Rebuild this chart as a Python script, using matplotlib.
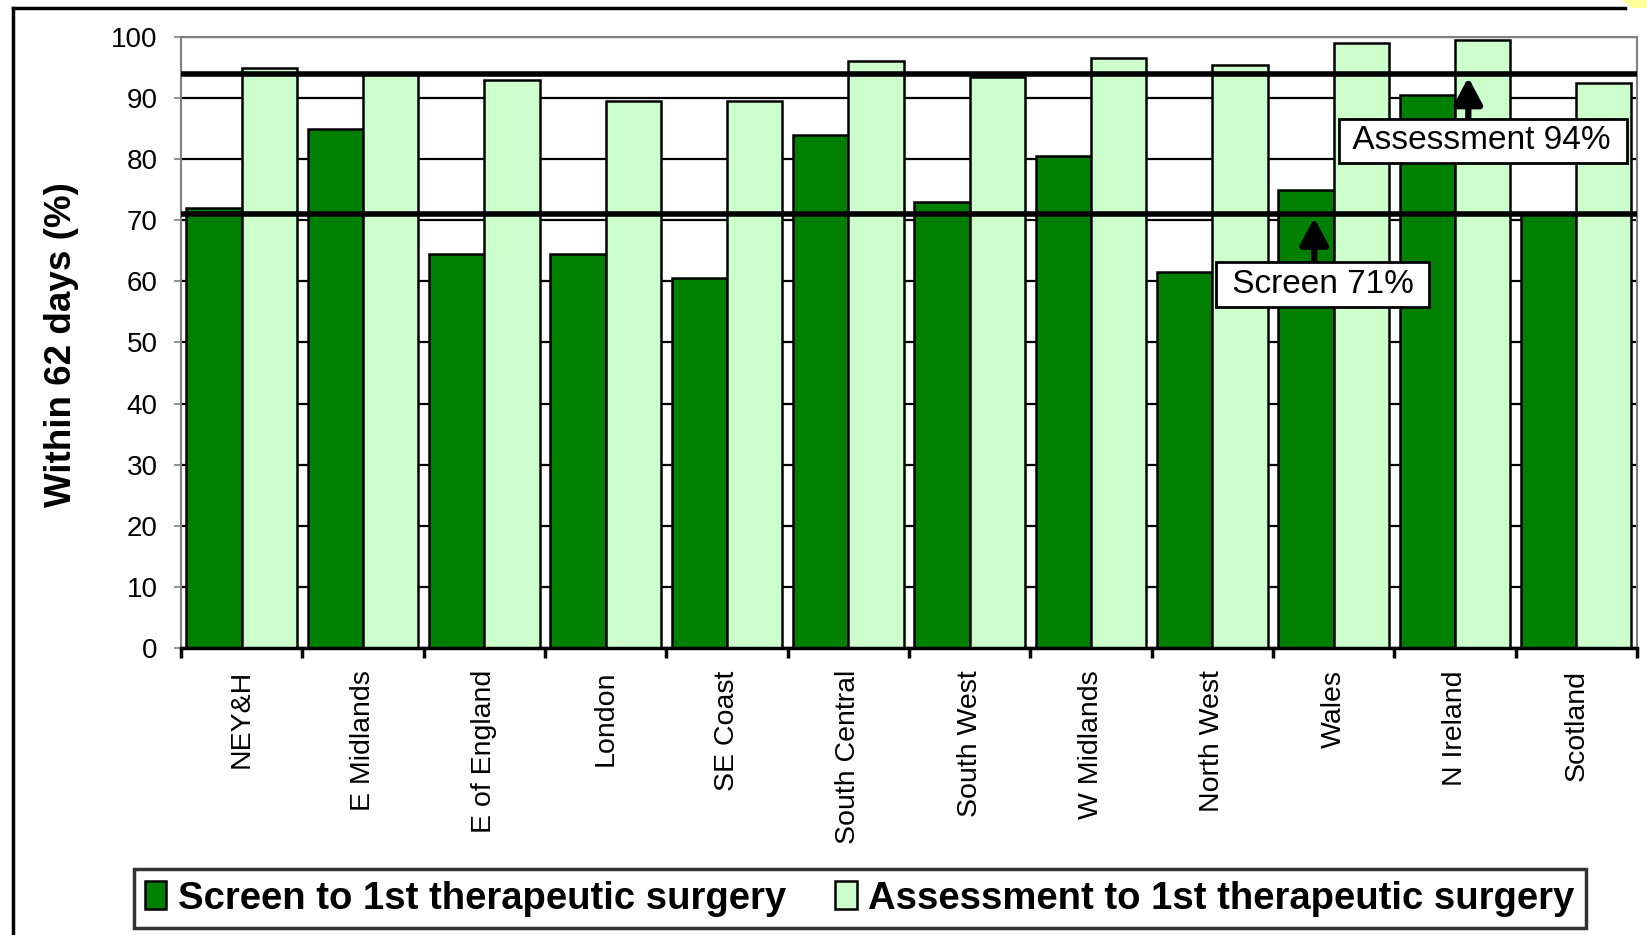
import matplotlib
matplotlib.use("Agg")
import matplotlib.pyplot as plt
import numpy as np
from matplotlib.lines import Line2D
from matplotlib.patches import Polygon

plt.rcParams['font.family'] = ['Liberation Sans', 'DejaVu Sans']

regions = ["NEY&H", "E Midlands", "E of England", "London", "SE Coast",
           "South Central", "South West", "W Midlands", "North West",
           "Wales", "N Ireland", "Scotland"]
screen = [72, 85, 64.5, 64.5, 60.5, 84, 73, 80.5, 61.5, 75, 90.5, 71]
assessment = [95, 94, 93, 89.5, 89.5, 96, 93.5, 96.5, 95.5, 99, 99.5, 92.5]
screen_target = 71
assessment_target = 94

dark = '#008000'
light = '#CCFFCC'

fig = plt.figure(figsize=(16.47, 9.35), dpi=100)
ax = fig.add_axes([0.1099, 0.3070, 0.8840, 0.6534])

x = np.arange(len(regions))
w = 0.455
ax.bar(x - w / 2, screen, w, color=dark, edgecolor='black', linewidth=1.8,
       label='Screen to 1st therapeutic surgery', zorder=2)
ax.bar(x + w / 2, assessment, w, color=light, edgecolor='black', linewidth=1.8,
       label='Assessment to 1st therapeutic surgery', zorder=2)

ax.axhline(assessment_target, color='black', lw=4, zorder=4, solid_capstyle='round')
ax.axhline(screen_target, color='black', lw=4, zorder=4, solid_capstyle='round')

ax.set_xlim(-0.5, len(regions) - 0.5)
ax.set_ylim(0, 100)
ax.set_yticks(range(0, 101, 10))
ax.yaxis.grid(True, color='black', lw=1.6)
ax.set_axisbelow(True)

# category labels at centres, tick marks at boundaries
ax.set_xticks(x)
ax.set_xticklabels(regions, rotation=90, ha='center', va='top')
ax.set_xticks(np.arange(-0.5, len(regions)), minor=True)
ax.tick_params(axis='x', which='major', length=0, pad=16, labelsize=20.5)
ax.tick_params(axis='x', which='minor', length=7, width=2.5, color='black', direction='out')
ax.tick_params(axis='y', length=5, width=1.2, color='#808080', pad=12, labelsize=20)

for s in ['left', 'top', 'right']:
    ax.spines[s].set_color('#808080')
    ax.spines[s].set_linewidth(1.5)
ax.spines['bottom'].set_color('black')
ax.spines['bottom'].set_linewidth(2.5)

ax.set_ylabel('Within 62 days (%)', fontsize=26.5, fontweight='bold')
ax.yaxis.set_label_coords(-0.07, 0.496)

# target callouts
box = dict(boxstyle='square,pad=0.2', facecolor='white', edgecolor='black', lw=2)
arrow = dict(arrowstyle='-|>,head_width=0.85,head_length=1.6',
             color='black', lw=4.5, shrinkA=0, shrinkB=0, mutation_scale=10)
ax.annotate('', xy=(10.11, assessment_target - 0.6), xytext=(10.11, 86.6),
            arrowprops=arrow, zorder=6)
ax.annotate('', xy=(8.84, screen_target - 0.6), xytext=(8.84, 63),
            arrowprops=arrow, zorder=6)
ax.text(10.23, 83, ' Assessment 94% ', fontsize=24, ha='center', va='center',
        bbox=box, zorder=7)
ax.text(8.91, 59.5, ' Screen 71% ', fontsize=24, ha='center', va='center',
        bbox=box, zorder=7)

leg = fig.legend(loc='center', bbox_to_anchor=(0.522, 0.039), ncol=2,
                 prop={'weight': 'bold', 'size': 27.5}, frameon=True, fancybox=False,
                 handlelength=0.55, handleheight=0.75, handletextpad=0.3,
                 columnspacing=1.3, borderpad=0.3)
leg.get_frame().set_edgecolor('black')
leg.get_frame().set_linewidth(2.5)

# outer chart frame
fig.add_artist(Line2D([13 / 1647, 13 / 1647], [0, 1 - 8 / 935], transform=fig.transFigure,
                      color='black', lw=2.5))
fig.add_artist(Line2D([13 / 1647, 1625 / 1647], [1 - 8 / 935, 1 - 8 / 935],
                      transform=fig.transFigure, color='black', lw=2.5))
fig.add_artist(Polygon([[1622 / 1647, 1], [1647 / 1647, 1], [1647 / 1647, 1 - 8 / 935],
                        [1632 / 1647, 1 - 8 / 935]], closed=True, transform=fig.transFigure,
                       facecolor='#FFFF99', edgecolor='none'))

fig.savefig('out.png', dpi=100)
